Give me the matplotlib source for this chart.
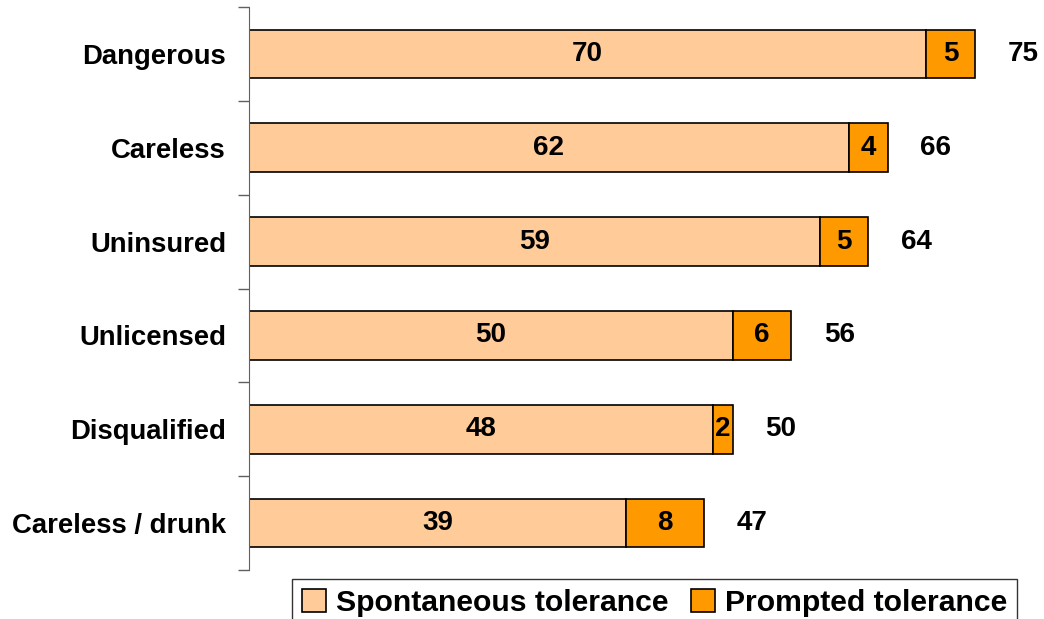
import matplotlib.pyplot as plt
import numpy as np

plt.rcParams['font.family'] = ['Liberation Sans', 'DejaVu Sans']
plt.rcParams['font.weight'] = 'bold'

# Categories, top to bottom
kategoriler = ['Dangerous', 'Careless', 'Uninsured', 'Unlicensed', 'Disqualified', 'Careless / drunk']
spontan = [70, 62, 59, 50, 48, 39]
istemli = [5, 4, 5, 6, 2, 8]
toplam = [75, 66, 64, 56, 50, 47]

fig = plt.figure(figsize=(10.44, 6.19), dpi=100)
ax = fig.add_axes([249 / 1044, 1 - 570 / 619, (1023 - 249) / 1044, (570 - 7) / 619])

y = np.arange(len(kategoriler))
yukseklik = 0.52

ax.barh(y, spontan, yukseklik, color='#FFCC99', edgecolor='black', linewidth=1.2,
        label='Spontaneous tolerance')
ax.barh(y, istemli, yukseklik, left=spontan, color='#FF9900', edgecolor='black', linewidth=1.2,
        label='Prompted tolerance')

# Values inside the segments and totals to the right
for i in range(len(kategoriler)):
    ax.text(spontan[i] / 2, y[i], str(spontan[i]), ha='center', va='center',
            fontsize=20, fontweight='bold')
    ax.text(spontan[i] + istemli[i] / 2, y[i], str(istemli[i]), ha='center', va='center',
            fontsize=20, fontweight='bold')
    ax.text(toplam[i] + 5, y[i], str(toplam[i]), ha='center', va='center',
            fontsize=20, fontweight='bold')

ax.set_xlim(0, 80)
ax.set_ylim(len(kategoriler) - 0.5, -0.5)

ax.set_yticks(y)
ax.set_yticklabels(kategoriler, fontsize=19.8, fontweight='bold')
ax.set_yticks(np.arange(len(kategoriler) + 1) - 0.5, minor=True)
ax.tick_params(axis='y', which='major', length=0, pad=16.5)
ax.tick_params(axis='y', which='minor', length=8, color='#606060', width=1)
ax.set_xticks([])

for s in ['top', 'right', 'bottom']:
    ax.spines[s].set_visible(False)
ax.spines['left'].set_color('#606060')

leg = fig.legend(loc='upper left', bbox_to_anchor=(292 / 1044, 1 - 579 / 619), ncol=2,
                 fontsize=21.7, frameon=True, fancybox=False, edgecolor='black',
                 handlelength=0.8, handleheight=0.8, handletextpad=0.33,
                 columnspacing=0.75, borderpad=0.32, borderaxespad=0)
leg.get_frame().set_linewidth(1)

fig.savefig('out.png', dpi=100)
